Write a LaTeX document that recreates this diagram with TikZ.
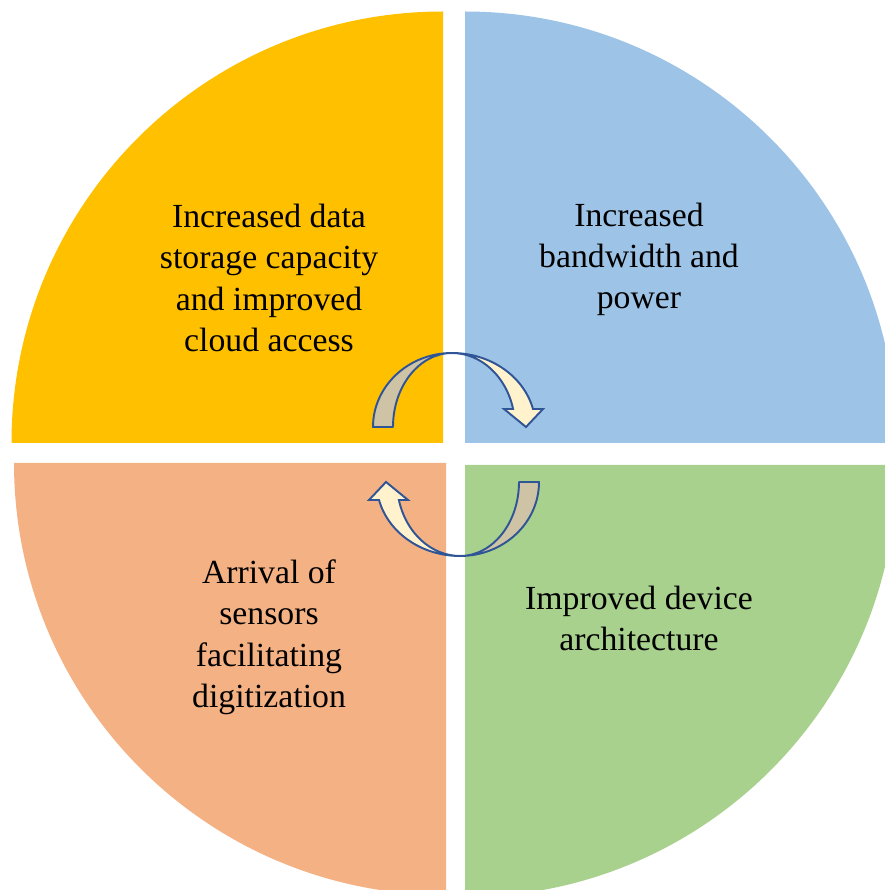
\documentclass[tikz,border=0pt]{standalone}
\usepackage{fontspec}
\setmainfont{Liberation Serif}
\usetikzlibrary{positioning}
\definecolor{quadAmber}{HTML}{FFC000}
\definecolor{quadBlue}{HTML}{9DC3E6}
\definecolor{quadPeach}{HTML}{F4B183}
\definecolor{quadGreen}{HTML}{A9D18E}
\definecolor{arrowTan}{HTML}{CFC3A6}
\definecolor{arrowCream}{HTML}{FFF2CC}
\definecolor{arrowEdge}{HTML}{2F5597}
\tikzset{
  qlabel/.style={align=center, anchor=base, inner sep=0pt, text=black,
        font=\fontsize{19.2}{23.5}\selectfont},
  twistback/.style={fill=arrowTan, draw=arrowEdge, line width=1.1pt, line join=round},
  twistfront/.style={fill=arrowCream, draw=arrowEdge, line width=1.1pt, line join=miter},
  cyclearrow/.pic={
    \path[twistback] (-79,0) arc[start angle=180, end angle=90, x radius=79, y radius=74]
      arc[start angle=90, end angle=180, x radius=59, y radius=74] -- cycle;
    \path[twistfront] (0,74) arc[start angle=90, end angle=14.1, x radius=83.5, y radius=74]
      -- (91,18) -- (74,0) -- (52,18) -- (61.1,18)
      arc[start angle=14.1, end angle=90, x radius=63, y radius=74] -- cycle;
  }
}

\begin{document}
\begin{tikzpicture}[x=0.02cm, y=0.02cm]
\useasboundingbox (0,0) rectangle (885,890);
\begin{scope}
\clip (0,0) rectangle (885,890);
\fill[quadAmber] (443,447) -- ++(-431.5,0) arc[start angle=180, end angle=90, radius=431.5] -- cycle;
\fill[quadBlue]  (465,447) -- ++(0,431.5) arc[start angle=90, end angle=0, radius=431.5] -- cycle;
\fill[quadPeach] (446,427) -- ++(-432,0) arc[start angle=180, end angle=270, radius=432] -- cycle;
\fill[quadGreen] (465,425) -- ++(432,0) arc[start angle=0, end angle=-90, radius=432] -- cycle;
\end{scope}

% turning arrows in the middle
\pic (topturn) at (452,463) {cyclearrow};
\pic[rotate=180] (botturn) at (460,408) {cyclearrow};

\node[qlabel] (storage) at (269,538.5) {Increased data\\storage capacity\\and improved\\cloud access};
\node[qlabel] (bandwidth) at (639,581) {Increased\\bandwidth and\\power};
\node[qlabel] (sensors) at (269,182.5) {Arrival of\\sensors\\facilitating\\digitization};
\node[qlabel] (device) at (639,239) {Improved device\\architecture};
\end{tikzpicture}
\end{document}
